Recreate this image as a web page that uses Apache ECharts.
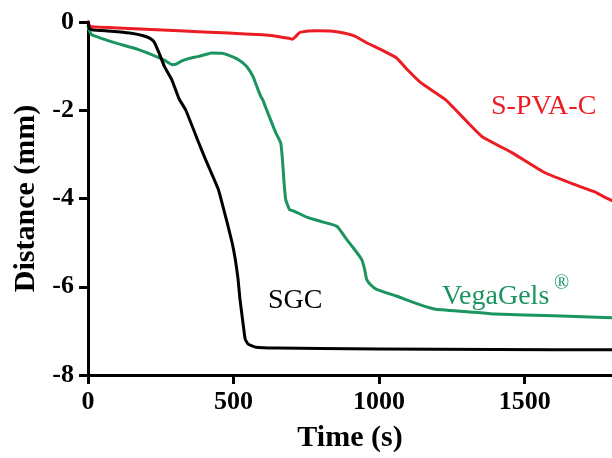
<!DOCTYPE html>
<html>
<head>
<meta charset="utf-8">
<script src="https://cdn.jsdelivr.net/npm/echarts@6/dist/echarts.min.js"></script>
<style>
  html, body { margin: 0; padding: 0; background: #fff; }
  #chart { width: 612px; height: 458px; }
</style>
</head>
<body>
<div id="chart"></div>
<script>
// 数据：时间(s) / 距离(mm)
var spvaT = [0, 7, 85, 312, 482, 600, 652, 690, 703, 712, 720, 730, 787, 840, 879, 920, 957, 1008, 1059, 1100, 1144, 1228, 1286, 1354, 1456, 1568, 1670, 1737, 1758, 1778, 1800];
var spvaD = [0, -0.1, -0.13, -0.2, -0.25, -0.29, -0.33, -0.37, -0.39, -0.34, -0.28, -0.23, -0.2, -0.21, -0.25, -0.33, -0.47, -0.63, -0.81, -1.1, -1.38, -1.76, -2.15, -2.6, -2.96, -3.41, -3.68, -3.84, -3.91, -3.98, -4.05];

var sgcT = [0, 5, 17, 80, 143, 190, 210, 227, 244, 262, 288, 312, 336, 380, 404, 448, 475, 495, 506, 515, 522, 532, 540, 550, 577, 650, 800, 1000, 1400, 1800];
var sgcD = [0, -0.15, -0.18, -0.21, -0.25, -0.31, -0.36, -0.45, -0.7, -1.0, -1.31, -1.73, -2.0, -2.73, -3.12, -3.8, -4.47, -5.0, -5.38, -5.8, -6.28, -6.8, -7.19, -7.3, -7.37, -7.39, -7.4, -7.41, -7.42, -7.43];

var vegaT = [0, 5, 13, 41, 97, 176, 261, 289, 305, 322, 350, 380, 424, 460, 482, 510, 533, 550, 567, 585, 594, 600, 620, 645, 662, 668, 673, 679, 692, 709, 753, 800, 855, 889, 915, 940, 950, 957, 970, 991, 1059, 1137, 1195, 1330, 1398, 1600, 1800];
var vegaD = [-0.1, -0.2, -0.29, -0.36, -0.48, -0.63, -0.86, -0.97, -0.95, -0.88, -0.82, -0.78, -0.7, -0.71, -0.75, -0.83, -0.93, -1.05, -1.24, -1.55, -1.69, -1.76, -2.1, -2.51, -2.74, -3.12, -3.6, -4.02, -4.25, -4.29, -4.43, -4.52, -4.63, -4.93, -5.15, -5.38, -5.6, -5.83, -5.95, -6.06, -6.21, -6.4, -6.51, -6.58, -6.62, -6.66, -6.7];

var xTicks = [0, 500, 1000, 1500];
var yTicks = [0, -2, -4, -6, -8];

var serif = "'Liberation Serif', 'Times New Roman', serif";

function pairs(t, d) {
  return t.map(function (v, i) { return [v, d[i]]; });
}

var charts = echarts.init(document.getElementById('chart'), null, { renderer: 'canvas' });

var axisBase = {
  axisLine: { onZero: false, lineStyle: { color: '#000', width: 3 } },
  axisTick: { show: true, length: 9, lineStyle: { color: '#000', width: 3 } },
  splitLine: { show: false },
  nameTextStyle: { color: '#000', fontSize: 30, fontWeight: 'bold', fontFamily: serif }
};

// 曲线公共样式
function lineSeries(name, t, d, color, z) {
  return {
    name: name, type: 'line', showSymbol: false, data: pairs(t, d),
    smooth: 0.12,
    lineStyle: { color: color, width: 3, join: 'round', cap: 'round' }, z: z
  };
}

charts.setOption({
  animation: false,
  backgroundColor: '#fff',
  grid: { left: 88, top: 22, width: 530, height: 354 },
  xAxis: Object.assign({}, axisBase, {
    type: 'value',
    min: xTicks[0],
    max: 1800,
    interval: 500,
    name: 'Time (s)',
    nameLocation: 'middle',
    nameGap: 48,
    axisLabel: {
      color: '#000', fontSize: 26, fontWeight: 'bold', fontFamily: serif, margin: 14, showMaxLabel: false,
      formatter: function (v) { return String(v); }
    }
  }),
  yAxis: Object.assign({}, axisBase, {
    type: 'value',
    min: yTicks[yTicks.length - 1],
    max: yTicks[0],
    interval: 2,
    name: 'Distance (mm)',
    nameLocation: 'middle',
    nameGap: 46,
    axisLabel: { color: '#000', fontSize: 26, fontWeight: 'bold', fontFamily: serif, margin: 14 }
  }),
  series: [
    lineSeries('S-PVA-C', spvaT, spvaD, '#ec1c24', 3),
    lineSeries('VegaGels', vegaT, vegaD, '#1c9460', 2),
    lineSeries('SGC', sgcT, sgcD, '#000', 4)
  ],
  graphic: [
    { type: 'text', left: 491, top: 93, style: { text: 'S-PVA-C', fill: '#ec1c24', font: '28px ' + serif } },
    { type: 'text', left: 268, top: 287, style: { text: 'SGC', fill: '#000', font: '28px ' + serif } },
    { type: 'text', left: 442, top: 283, style: { text: 'VegaGels', fill: '#1c9460', font: '28px ' + serif } },
    { type: 'text', left: 554, top: 274, style: { text: '\u00AE', fill: '#1c9460', font: '20px ' + serif } }
  ]
});
</script>
</body>
</html>
